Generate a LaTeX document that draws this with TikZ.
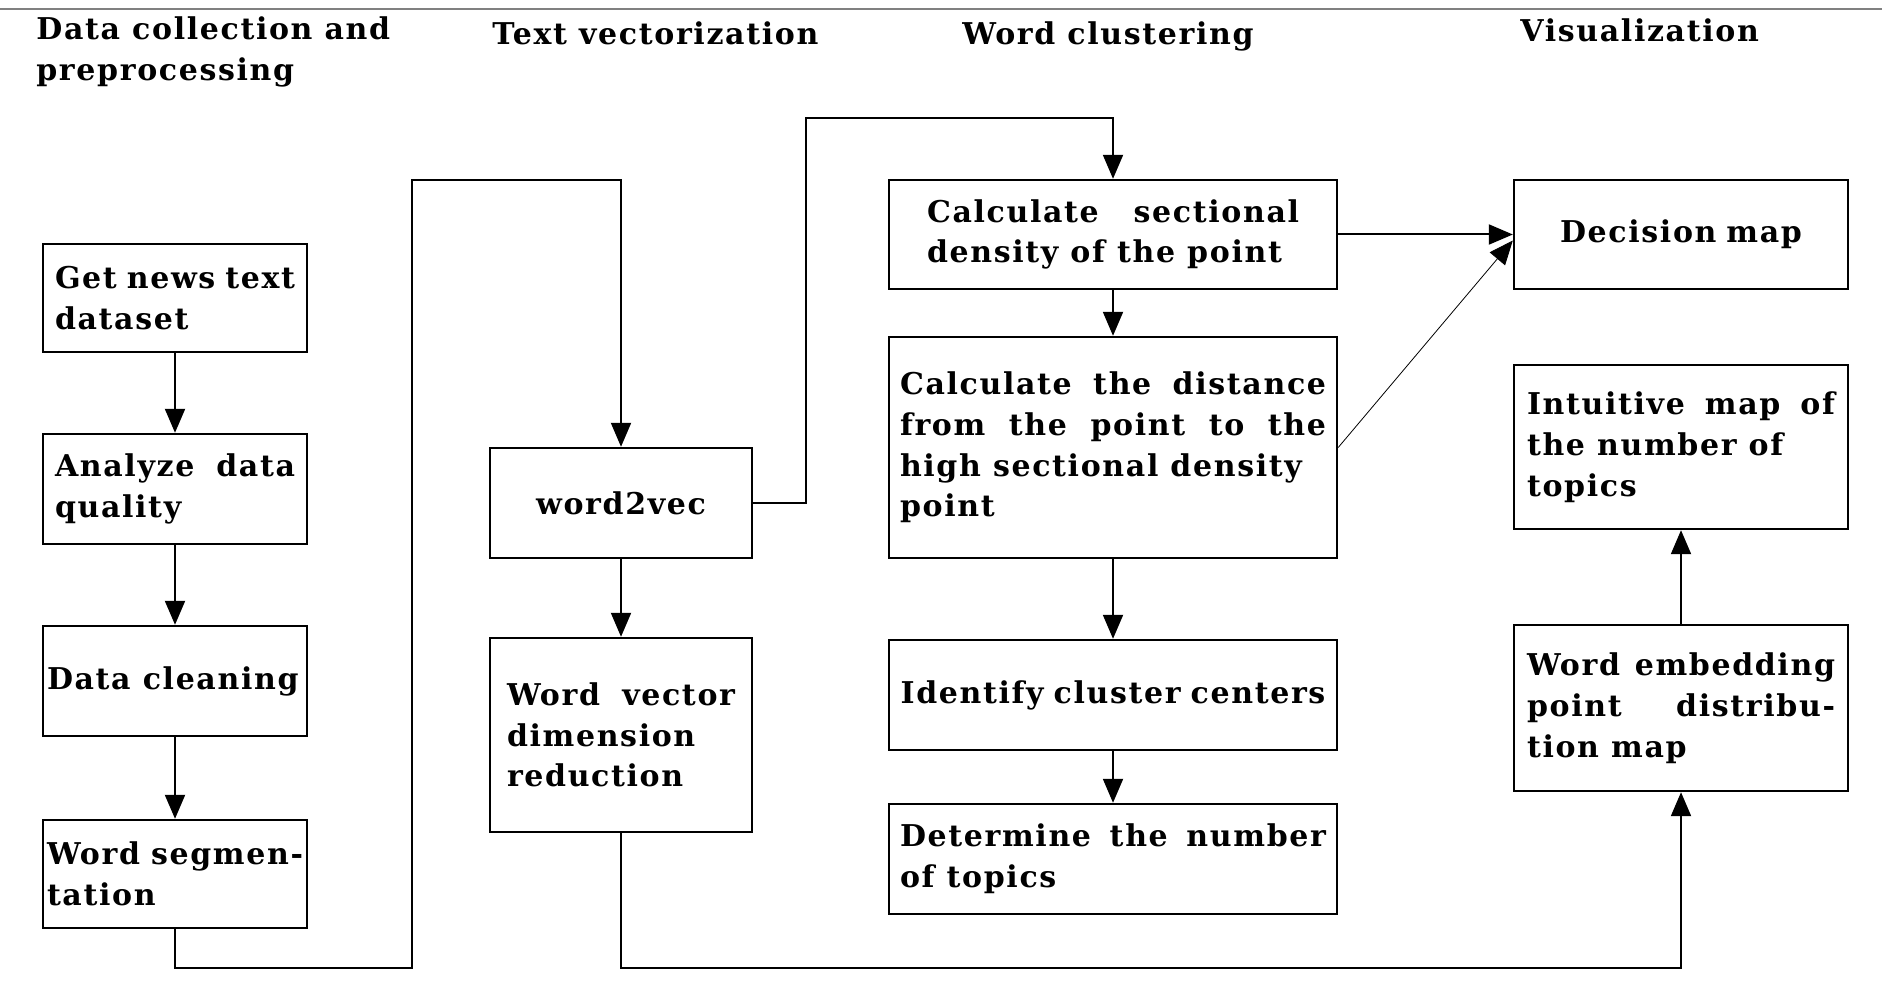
\documentclass[tikz,border=0pt]{standalone}
\usepackage{fontspec}
\setmainfont[LetterSpace=5.5]{DejaVu Serif}
\usepackage{tikz}
\usetikzlibrary{arrows.meta}
\newcommand{\stepfont}{\bfseries\fontsize{15}{20.4}\selectfont}
\begin{document}
\begin{tikzpicture}[x=0.5pt, y=-0.5pt,
    stepbox/.style={draw, line width=1.2pt, align=justify, inner sep=0pt, font=\stepfont},
    colA/.style={stepbox, minimum width=132pt, text width=120pt},
    colB/.style={stepbox, minimum width=131pt, text width=114pt},
    colC/.style={stepbox, minimum width=224pt, text width=213pt},
    colD/.style={stepbox, minimum width=167pt, text width=154pt},
    head/.style={anchor=west, align=left, inner sep=0pt, font=\stepfont},
    link/.style={line width=1pt},
    arrow/.style={link, -{Triangle[length=12pt,width=10pt]}}]
                \useasboundingbox (0,0) rectangle (1882,988);
                \draw[gray, line width=1pt] (0,9) -- (1882,9);
                \node[head] (h1) at (36,52) {Data collection and\\preprocessing};
                \node[head] (h2) at (492,33) {Text vectorization};
                \node[head] (h3) at (962,36) {Word clustering};
                \node[head] (h4) at (1520,30) {Visualization};
                \node[colA, minimum height=54pt] (n1) at (175,298) {Get news text\linebreak dataset};
                \node[colA, minimum height=55pt] (n2) at (175,489) {Analyze data\linebreak quality};
                \node[colA, minimum height=55pt, text width=128pt] (n3) at (175,681) {Data cleaning};
                \node[colA, minimum height=54pt, text width=128pt] (n4) at (175,874) {Word segmen-\linebreak tation};
                \node[colB, minimum height=55pt, align=center] (v1) at (621,503) {word2vec};
                \node[colB, minimum height=97pt] (v2) at (621,735) {Word vector\linebreak dimension\\reduction};
                \node[colC, minimum height=54.5pt, text width=186pt] (c1) at (1113,234.5) {Calculate sectional\linebreak density of the point};
                \node[colC, minimum height=110.5pt] (c2) at (1113,447.5) {Calculate the distance\linebreak from the point to the\linebreak high sectional density\\point};
                \node[colC, minimum height=55pt, align=center] (c3) at (1113,695) {Identify cluster centers};
                \node[colC, minimum height=55pt] (c4) at (1113,859) {Determine the number\linebreak of topics};
                \node[colD, minimum height=54.5pt, align=center] (d1) at (1681,234.5) {Decision map};
                \node[colD, minimum height=82pt] (d2) at (1681,447) {Intuitive map of\linebreak the number of\\topics};
                \node[colD, minimum height=83pt] (d3) at (1681,708) {Word embedding\linebreak point distribu-\linebreak tion map};
                \coordinate (b1) at (412,968);
                \coordinate (b2) at (621,180);
                \coordinate (b3) at (806,118);
                \coordinate (b4) at (1681,968);
                \draw[arrow] (n1) -- (n2);
                \draw[arrow] (n2) -- (n3);
                \draw[arrow] (n3) -- (n4);
                \draw[arrow] (n4.south) |- (b1) |- (b2) -- (v1.north);
                \draw[arrow] (v1) -- (v2);
                \draw[arrow] (v1.east) -| (b3) -| (c1.north);
                \draw[arrow] (c1) -- (c2);
                \draw[arrow] (c2) -- (c3);
                \draw[arrow] (c3) -- (c4);
                \draw[arrow] (c1.east) -- (d1.west);
                \draw[line width=0.4pt, -{Triangle[length=12pt,width=10pt]}] (c2.east) -- ([yshift=-3pt]d1.west);
                \draw[arrow] (v2.south) |- (b4) -- (d3.south);
                \draw[arrow] (d3) -- (d2);
\end{tikzpicture}
\end{document}
